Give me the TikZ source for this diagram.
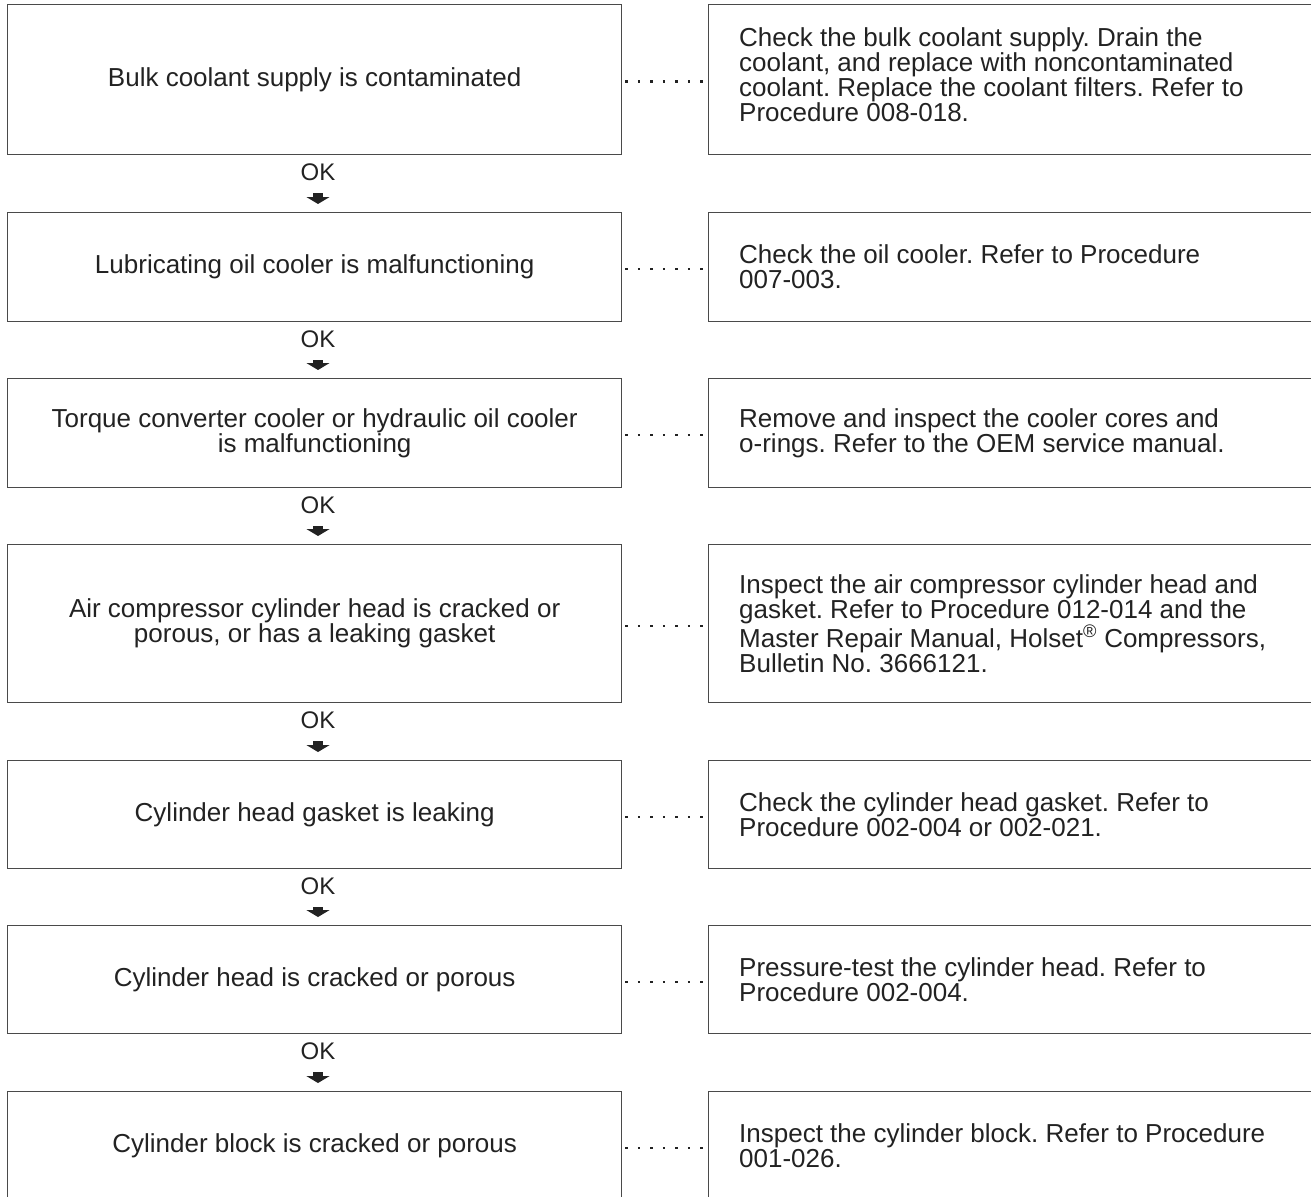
\documentclass[tikz,border=0pt]{standalone}
\usepackage{fontspec}
\setmainfont{Liberation Sans}
\usetikzlibrary{arrows.meta}
\definecolor{ink}{HTML}{222222}
\definecolor{frame}{HTML}{4A4A4A}
\begin{document}
\frenchspacing
\begin{tikzpicture}[x=1pt,y=-1pt,
  every node/.style={font=\fontsize{26}{25}\selectfont, text=ink},
  lbox/.style={draw=frame, line width=1.3pt, anchor=north west, minimum width=614pt, align=center, inner sep=0pt},
  rbox/.style={draw=frame, line width=1.3pt, anchor=north west, minimum width=650pt, inner sep=0pt},
  rtext/.style={anchor=west, align=left, inner sep=0pt},
  dotline/.style={draw=ink, line width=2.3pt, dash pattern=on 2.3pt off 10.2pt, dash phase=9.5pt},
  oklabel/.style={anchor=base, inner sep=0pt, font=\fontsize{24}{24}\selectfont},
  okarrow/.style={draw=ink, line width=10pt, -{Triangle[width=23pt,length=7pt]}, shorten <=13pt, shorten >=8pt}
]
\path[use as bounding box] (0,0) rectangle (1311,1196);
\clip (0,0) rectangle (1311,1196);

% Left boxes
\node[lbox, minimum height=150pt] (L1) at (7,4) {Bulk coolant supply is contaminated};
\node[lbox, minimum height=109pt] (L2) at (7,212) {Lubricating oil cooler is malfunctioning};
\node[lbox, minimum height=109pt] (L3) at (7,378) {Torque converter cooler or hydraulic oil cooler\\is malfunctioning};
\node[lbox, minimum height=158pt] (L4) at (7,544) {Air compressor cylinder head is cracked or\\porous, or has a leaking gasket};
\node[lbox, minimum height=108pt] (L5) at (7,760) {Cylinder head gasket is leaking};
\node[lbox, minimum height=108pt] (L6) at (7,925) {Cylinder head is cracked or porous};
\node[lbox, minimum height=108pt] (L7) at (7,1091) {Cylinder block is cracked or porous};

% Right boxes
\node[rbox, minimum height=150pt] (R1) at (708,4) {};
\node[rbox, minimum height=109pt] (R2) at (708,212) {};
\node[rbox, minimum height=109pt] (R3) at (708,378) {};
\node[rbox, minimum height=158pt] (R4) at (708,544) {};
\node[rbox, minimum height=108pt] (R5) at (708,760) {};
\node[rbox, minimum height=108pt] (R6) at (708,925) {};
\node[rbox, minimum height=108pt] (R7) at (708,1091) {};

% Right texts
\node[rtext] (T1) at ([xshift=31pt,yshift=5pt]R1.west) {Check the bulk coolant supply. Drain the\\coolant, and replace with noncontaminated\\coolant. Replace the coolant filters. Refer to\\Procedure 008-018.};
\node[rtext] (T2) at ([xshift=31pt]R2.west) {Check the oil cooler. Refer to Procedure\\007-003.};
\node[rtext] (T3) at ([xshift=31pt]R3.west) {Remove and inspect the cooler cores and\\o-rings. Refer to the OEM service manual.};
\node[rtext] (T4) at ([xshift=31pt]R4.west) {Inspect the air compressor cylinder head and\\gasket. Refer to Procedure 012-014 and the\\Master Repair Manual, Holset\textsuperscript{\textregistered} Compressors,\\Bulletin No. 3666121.};
\node[rtext] (T5) at ([xshift=31pt]R5.west) {Check the cylinder head gasket. Refer to\\Procedure 002-004 or 002-021.};
\node[rtext] (T6) at ([xshift=31pt]R6.west) {Pressure-test the cylinder head. Refer to\\Procedure 002-004.};
\node[rtext] (T7) at ([xshift=31pt]R7.west) {Inspect the cylinder block. Refer to Procedure\\001-026.};

% dotted links
\foreach \i in {1,...,7}{
  \draw[dotline] ([yshift=-2pt]L\i.east) -- ([yshift=-2pt]L\i.east -| R\i.west);
}

% OK labels and arrows
\node[oklabel] (ok1) at (318,180) {OK};
\node[oklabel] (ok2) at (318,347) {OK};
\node[oklabel] (ok3) at (318,513) {OK};
\node[oklabel] (ok4) at (318,728) {OK};
\node[oklabel] (ok5) at (318,894) {OK};
\node[oklabel] (ok6) at (318,1059) {OK};
\draw[okarrow] (ok1.south) -- (ok1.south |- L2.north);
\draw[okarrow] (ok2.south) -- (ok2.south |- L3.north);
\draw[okarrow] (ok3.south) -- (ok3.south |- L4.north);
\draw[okarrow] (ok4.south) -- (ok4.south |- L5.north);
\draw[okarrow] (ok5.south) -- (ok5.south |- L6.north);
\draw[okarrow] (ok6.south) -- (ok6.south |- L7.north);
\end{tikzpicture}
\end{document}
